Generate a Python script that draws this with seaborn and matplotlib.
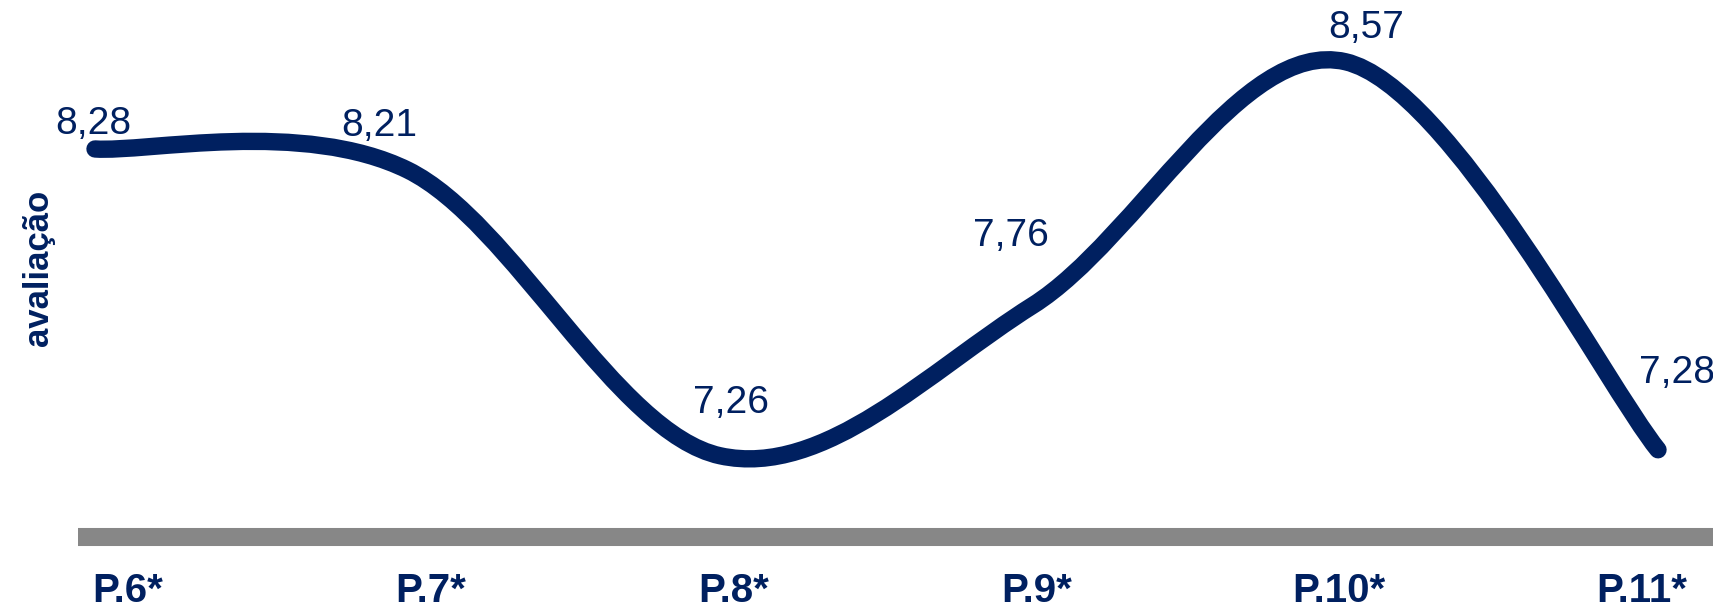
import matplotlib
matplotlib.use('Agg')
import matplotlib.pyplot as plt
import numpy as np
import seaborn as sns
from matplotlib.path import Path
from matplotlib.patches import PathPatch

# chart data
categories = ['P.6*', 'P.7*', 'P.8*', 'P.9*', 'P.10*', 'P.11*']
scores = [8.28, 8.21, 7.26, 7.76, 8.57, 7.28]
score_labels = ['8,28', '8,21', '7,26', '7,76', '8,57', '7,28']
y_title = 'avaliação'

navy = '#002060'
bar_gray = '#878787'

sns.set_theme(style='white')
plt.rcParams['font.family'] = ['Liberation Sans Narrow', 'Liberation Sans', 'DejaVu Sans']

W, H = 1713, 608
fig = plt.figure(figsize=(W / 100, H / 100), dpi=100)
fig.patch.set_facecolor('white')

# axes placed in pixels: left edge of the gray bar, bar centre line at y=537
y_lo, y_hi = 6.99, 8.75
px_per_unit = 300.8
ax_top_px = 537 - (y_hi - y_lo) * px_per_unit
ax = fig.add_axes([78 / W, (H - 537) / H, (W - 78) / W, (537 - ax_top_px) / H])
ax.set_facecolor('none')

# smooth line through the points (Catmull-Rom style bezier, like Excel's smoothing)
pts = np.column_stack([np.arange(len(scores)), scores]).astype(float)
verts = [tuple(pts[0])]
codes = [Path.MOVETO]
n = len(pts)
for i in range(n - 1):
    p0 = pts[max(i - 1, 0)]
    p1 = pts[i]
    p2 = pts[i + 1]
    p3 = pts[min(i + 2, n - 1)]
    c1 = p1 + (p2 - p0) / 6
    c2 = p2 - (p3 - p1) / 6
    verts += [tuple(c1), tuple(c2), tuple(p2)]
    codes += [Path.CURVE4] * 3
curve = PathPatch(Path(verts, codes), fill=False, edgecolor=navy, linewidth=12.5,
                  capstyle='round', joinstyle='round', zorder=3)
ax.add_patch(curve)

# value labels
label_offsets = [(-2, 25), (-28, 44), (11, 53), (-22, 69), (21, 34), (19, 77)]
for i, (v, lbl) in enumerate(zip(scores, score_labels)):
    dx, dy = label_offsets[i]
    ax.annotate(lbl, (i, v), xytext=(dx, dy), textcoords='offset pixels',
                ha='center', va='center', fontsize=28, color=navy, annotation_clip=False)

ax.set_xlim(-17 / 312.6, (W - 95) / 312.6)
ax.set_ylim(y_lo, y_hi)

# category labels sit on their own even spacing
ax.set_xticks(np.linspace(0.106, 4.949, len(categories)))
ax.set_xticklabels(categories, fontsize=29, fontweight='bold', color=navy)
ax.tick_params(axis='x', length=0, pad=25)
ax.set_yticks([])

sns.despine(ax=ax, left=True, top=True, right=True)
ax.spines['bottom'].set_color(bar_gray)
ax.spines['bottom'].set_linewidth(13)
ax.spines['bottom'].set_capstyle('butt')

fig.text(38 / W, 1 - 268 / H, y_title, rotation=90, ha='center', va='center',
         fontsize=25, fontweight='bold', color=navy, family=['Liberation Sans', 'DejaVu Sans'])

fig.savefig('out.png', dpi=100)
